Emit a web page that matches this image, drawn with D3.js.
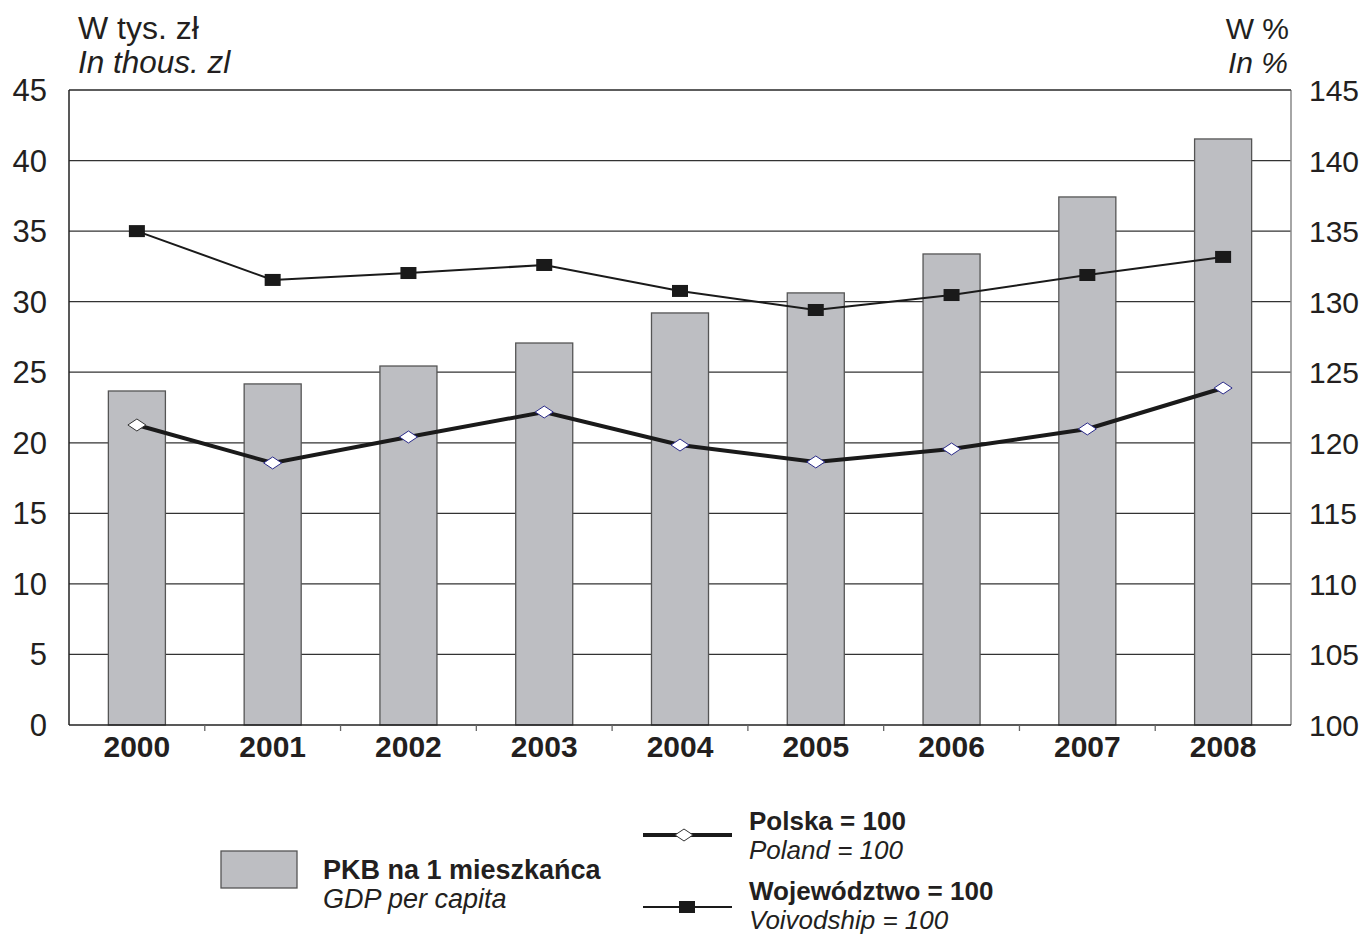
<!DOCTYPE html>
<html><head><meta charset="utf-8">
<script src="https://cdn.jsdelivr.net/npm/d3@7"></script>
<style>body{margin:0;background:#fff}svg{display:block;font-family:"Liberation Sans",Arial,sans-serif}</style>
</head><body><svg id="c" width="1365" height="935"></svg>
<script>
const years = ["2000","2001","2002","2003","2004","2005","2006","2007","2008"];
const gdp = [23.67, 24.17, 25.44, 27.07, 29.2, 30.62, 33.38, 37.42, 41.53];
const polska = [121.26, 118.57, 120.41, 122.18, 119.84, 118.64, 119.56, 120.98, 123.88];
const woj = [135.0, 131.54, 132.03, 132.6, 130.76, 129.41, 130.47, 131.89, 133.17];
const leftTicks = [0,5,10,15,20,25,30,35,40,45];
const rightTicks = [100,105,110,115,120,125,130,135,140,145];

const svg = d3.select("#c");
const L = 69, R = 1291, T = 90, B = 725;
const x = d3.scaleBand().domain(years).range([L, R]).paddingInner(0.58).paddingOuter(0.29);
const xc = d => x(d) + x.bandwidth()/2;
const yL = d3.scaleLinear().domain([0,45]).range([B,T]);
const yR = d3.scaleLinear().domain([100,145]).range([B,T]);
const ink = "#231f20";

// gridlines
svg.append("g").selectAll("line").data(leftTicks.slice(1)).join("line")
  .attr("x1", L).attr("x2", R).attr("y1", d=>yL(d)).attr("y2", d=>yL(d))
  .attr("stroke", "#333").attr("stroke-width", 1.2);

// bars
svg.append("g").selectAll("rect").data(years).join("rect")
  .attr("x", d=>x(d)).attr("width", x.bandwidth())
  .attr("y", (d,i)=>yL(gdp[i])).attr("height", (d,i)=>B - yL(gdp[i]))
  .attr("fill", "#bdbec2").attr("stroke", "#555").attr("stroke-width", 1.3);

// axes lines
svg.append("line").attr("x1", L).attr("x2", L).attr("y1", T).attr("y2", B).attr("stroke", "#222").attr("stroke-width", 1.5);
svg.append("line").attr("x1", R).attr("x2", R).attr("y1", T).attr("y2", B).attr("stroke", "#888").attr("stroke-width", 1.5);
svg.append("line").attr("x1", L).attr("x2", R).attr("y1", B).attr("y2", B).attr("stroke", "#222").attr("stroke-width", 1.5);
svg.append("line").attr("x1", L).attr("x2", R).attr("y1", T).attr("y2", T).attr("stroke", "#222").attr("stroke-width", 1.2);

// category separator ticks
svg.append("g").selectAll("line").data(d3.range(1, years.length)).join("line")
  .attr("x1", i=>L + i*(R-L)/years.length).attr("x2", i=>L + i*(R-L)/years.length)
  .attr("y1", B).attr("y2", B+6).attr("stroke", "#666").attr("stroke-width", 1.3);

// tick labels
svg.append("g").selectAll("text").data(leftTicks).join("text")
  .attr("x", 47).attr("y", d=>yL(d)+11).attr("text-anchor","end")
  .attr("font-size", 31).attr("fill",ink).text(d=>d);
svg.append("g").selectAll("text").data(rightTicks).join("text")
  .attr("x", 1309).attr("y", d=>yR(d)+11).attr("text-anchor","start")
  .attr("font-size", 30).attr("fill",ink).text(d=>d);
svg.append("g").selectAll("text").data(years).join("text")
  .attr("x", d=>xc(d)).attr("y", 757).attr("text-anchor","middle")
  .attr("font-size", 30).attr("font-weight","bold").attr("fill",ink).text(d=>d);

// unit labels
svg.append("text").attr("x", 78).attr("y", 39).attr("font-size", 32).attr("fill",ink).text("W tys. zł");
svg.append("text").attr("x", 78).attr("y", 73).attr("font-size", 31.5).attr("font-style","italic").attr("fill",ink).text("In thous. zl");
svg.append("text").attr("x", 1289).attr("y", 39).attr("text-anchor","end").attr("font-size", 30).attr("fill",ink).text("W %");
svg.append("text").attr("x", 1288).attr("y", 73).attr("text-anchor","end").attr("font-size", 30).attr("font-style","italic").attr("fill",ink).text("In %");

// lines
const lineW = d3.line().x((d,i)=>xc(years[i])).y(d=>yR(d));
svg.append("path").attr("d", lineW(woj)).attr("fill","none").attr("stroke","#1a1a1a").attr("stroke-width", 2);
svg.append("g").selectAll("rect").data(woj).join("rect")
  .attr("x", (d,i)=>xc(years[i])-8).attr("y", d=>yR(d)-6).attr("width",16).attr("height",12)
  .attr("fill","#1a1a1a");
svg.append("path").attr("d", lineW(polska)).attr("fill","none").attr("stroke","#1a1a1a").attr("stroke-width", 4);
const diamond = (cx, cy) => `M${cx-9},${cy}L${cx},${cy-6}L${cx+9},${cy}L${cx},${cy+6}Z`;
svg.append("g").selectAll("path").data(polska).join("path")
  .attr("d", (d,i)=>diamond(xc(years[i]), yR(d)))
  .attr("fill","#fff").attr("stroke", (d,i)=> i===0 ? "#333" : "#2a2a8a").attr("stroke-width", 1);

// legend
const lg = svg.append("g");
const fs = 26;
lg.append("rect").attr("x",221).attr("y",851).attr("width",76).attr("height",37).attr("fill","#bdbec2").attr("stroke","#555").attr("stroke-width",1.3);
lg.append("text").attr("x",323).attr("y",879).attr("font-size",fs+1).attr("font-weight","bold").attr("fill",ink).text("PKB na 1 mieszkańca");
lg.append("text").attr("x",323).attr("y",908).attr("font-size",fs+1).attr("font-style","italic").attr("fill",ink).text("GDP per capita");

lg.append("line").attr("x1",643).attr("x2",732).attr("y1",835).attr("y2",835).attr("stroke","#1a1a1a").attr("stroke-width",4);
lg.append("path").attr("d", diamond(684, 835)).attr("fill","#fff").attr("stroke","#333").attr("stroke-width",1);
lg.append("text").attr("x",749).attr("y",830).attr("font-size",fs).attr("font-weight","bold").attr("fill",ink).text("Polska = 100");
lg.append("text").attr("x",749).attr("y",859).attr("font-size",fs).attr("font-style","italic").attr("fill",ink).text("Poland = 100");

lg.append("line").attr("x1",643).attr("x2",732).attr("y1",907).attr("y2",907).attr("stroke","#1a1a1a").attr("stroke-width",2);
lg.append("rect").attr("x",679).attr("y",901).attr("width",16).attr("height",12).attr("fill","#1a1a1a");
lg.append("text").attr("x",749).attr("y",900).attr("font-size",fs).attr("font-weight","bold").attr("fill",ink).text("Województwo = 100");
lg.append("text").attr("x",749).attr("y",929).attr("font-size",fs).attr("font-style","italic").attr("fill",ink).text("Voivodship = 100");
</script></body></html>
